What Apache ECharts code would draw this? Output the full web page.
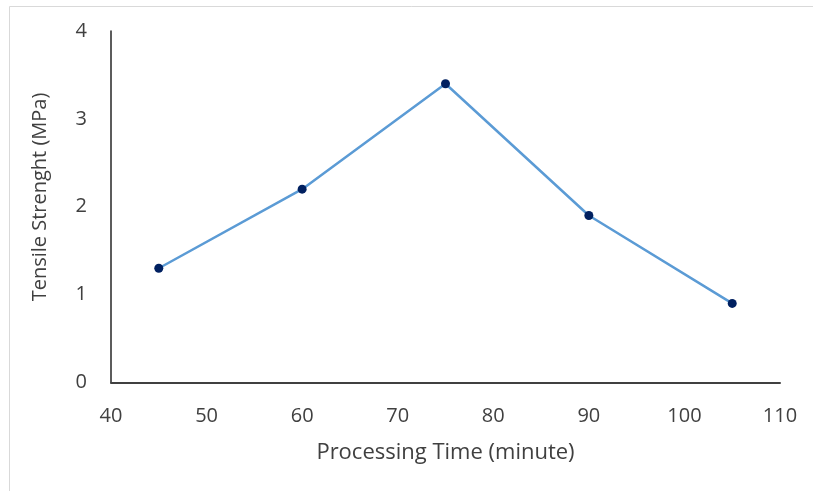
<!DOCTYPE html>
<html>
<head>
<meta charset="utf-8">
<script src="https://cdn.jsdelivr.net/npm/echarts@6/dist/echarts.min.js"></script>
<style>html,body{margin:0;padding:0;background:#fff}#c{width:813px;height:491px}</style>
</head>
<body>
<div id="c"></div>
<script>
var xValues = [45, 60, 75, 90, 105];
var tensile = [1.3, 2.2, 3.4, 1.9, 0.9];
var xTitle = 'Processing Time (minute)';
var yTitle = 'Tensile Strenght (MPa)';

var chart = echarts.init(document.getElementById('c'));
var font = '"Open Sans", "Noto Sans", sans-serif';
chart.setOption({
  animation: false,
  backgroundColor: '#fff',
  graphic: [{
    type: 'rect', shape: {x: 9.5, y: 6.5, width: 820, height: 500},
    style: {fill: 'none', stroke: '#d9d9d9', lineWidth: 1}, silent: true, z: -1
  }, {
    type: 'text', x: 40, y: 197, rotation: Math.PI / 2,
    style: {text: yTitle, fontFamily: font, fontSize: 20, fill: '#404040',
            align: 'center', verticalAlign: 'middle'},
    silent: true
  }],
  grid: {left: 111, right: 33, top: 31, bottom: 108.5},
  xAxis: {
    type: 'value', min: 40, max: 110, interval: 10,
    name: xTitle, nameLocation: 'middle', nameGap: 59,
    nameTextStyle: {fontFamily: font, fontSize: 22, color: '#404040'},
    axisLine: {show: true, lineStyle: {color: '#404040', width: 2}},
    axisTick: {show: false},
    splitLine: {show: false},
    axisLabel: {fontFamily: font, fontSize: 20, color: '#404040', margin: 24}
  },
  yAxis: {
    type: 'value', min: 0, max: 4, interval: 1,
    axisLine: {show: true, lineStyle: {color: '#262626', width: 1.5}},
    axisTick: {show: false},
    splitLine: {show: false},
    axisLabel: {fontFamily: font, fontSize: 20, color: '#404040', margin: 24}
  },
  series: [{
    type: 'line',
    data: xValues.map(function (x, i) { return [x, tensile[i]]; }),
    symbol: 'circle', symbolSize: 9,
    lineStyle: {color: '#5B9BD5', width: 2.5},
    itemStyle: {color: '#002060'}
  }]
});
</script>
</body>
</html>
